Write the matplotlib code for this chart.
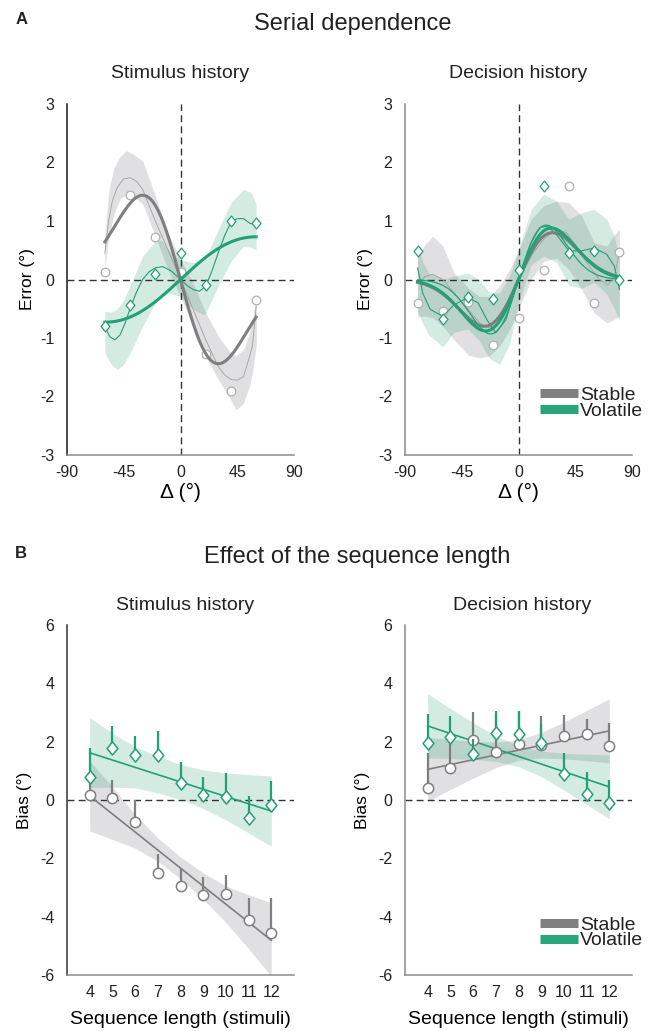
import numpy as np
import matplotlib
matplotlib.use("Agg")
import matplotlib.pyplot as plt
from matplotlib.lines import Line2D
from matplotlib.path import Path

plt.rcParams['font.family'] = ['Liberation Sans', 'DejaVu Sans']
plt.rcParams['text.color'] = '#222222'
plt.rcParams['axes.unicode_minus'] = False

GRAY = '#7f7f7f'
GRAY_LIGHT = '#b0b0b0'
GREEN = '#22a077'
BAND_GRAY = '#9a9aa2'
BAND_GREEN = '#2a9d6e'
DIAMOND = Path([(0, 1), (0.82, 0), (0, -1), (-0.82, 0), (0, 1)],
               [Path.MOVETO, Path.LINETO, Path.LINETO, Path.LINETO, Path.CLOSEPOLY])

# ---------------- panel A : serial dependence ----------------
stim_dx = [-60, -40, -20, 0, 20, 40, 60]
stim_err_stable = [0.13, 1.45, 0.73, 0.12, -1.27, -1.91, -0.35]
stim_err_volatile = [-0.80, -0.44, 0.09, 0.46, -0.10, 1.00, 0.96]

dec_dx = [-80, -60, -40, -20, 0, 20, 40, 60, 80]
dec_err_stable = [-0.40, -0.54, -0.38, -1.12, -0.66, 0.17, 1.59, -0.40, 0.47]
dec_err_volatile = [0.49, -0.67, -0.30, -0.34, 0.17, 1.59, 0.46, 0.48, 0.00]

# DoG fits: (peak amplitude, peak location in deg)
stim_dog_stable = (-1.44, 30)
stim_dog_volatile = (0.73, 60)
dec_dog_stable = (0.80, 27)
dec_dog_volatile = (0.88, 26)
dec_dog_volatile_2 = (0.93, 22)

# flexible fits (thin lines)
stim_thin_stable_x = [-60, -57, -54, -50, -45, -40, -35, -30, -20, -10, 0, 10, 20, 30, 35, 40, 45, 50, 55, 57, 60]
stim_thin_stable_y = [0.45, 1.0, 1.35, 1.58, 1.72, 1.74, 1.68, 1.54, 1.0, 0.51, 0.0, -0.51, -1.03, -1.49, -1.63, -1.71, -1.72, -1.66, -1.3, -1.14, -0.46]
stim_thin_vol_x = [-60, -56, -52, -48, -44, -40, -35, -30, -25, -20, -14, -7, 0, 5, 10, 15, 20, 25, 30, 35, 40, 45, 50, 55, 60]
stim_thin_vol_y = [-0.8, -0.98, -1.03, -0.95, -0.75, -0.5, -0.22, 0.0, 0.13, 0.2, 0.22, 0.14, 0.0, -0.1, -0.17, -0.2, -0.12, 0.15, 0.46, 0.75, 0.98, 1.04, 1.04, 0.96, 0.94]

stim_band_stable_x = [-60, -57, -53, -48, -43, -38, -30, -20, -10, 0, 10, 20, 30, 40, 44, 50, 55, 57, 60]
stim_band_stable_hi = [0.75, 1.5, 1.9, 2.1, 2.2, 2.15, 2.03, 1.43, 0.8, 0.34, -0.06, -0.57, -0.97, -1.26, -1.3, -1.2, -0.9, -0.69, -0.29]
stim_band_stable_lo = [0.2, 0.7, 1.1, 1.38, 1.44, 1.44, 1.29, 0.74, 0.17, -0.29, -0.8, -1.31, -1.71, -2.06, -2.23, -2.11, -1.8, -1.6, -1.14]
stim_band_vol_x = [-60, -55, -50, -45, -40, -30, -20, -15, -10, 0, 10, 18, 20, 30, 40, 50, 56, 60]
stim_band_vol_hi = [-0.54, -0.56, -0.5, -0.35, -0.11, 0.4, 0.66, 0.67, 0.51, 0.34, 0.29, 0.33, 0.37, 0.86, 1.31, 1.54, 1.49, 1.29]
stim_band_vol_lo = [-1.26, -1.45, -1.54, -1.45, -1.26, -0.8, -0.4, -0.3, -0.23, -0.29, -0.51, -0.6, -0.57, -0.11, 0.31, 0.57, 0.55, 0.51]

dec_thin_stable_x = [-80, -74, -68, -60, -51, -40, -31, -23, -15, -7, 0, 11, 20, 30, 38, 46, 54, 64, 71, 76, 80]
dec_thin_stable_y = [-0.05, 0.05, 0.09, 0.0, -0.23, -0.51, -0.74, -0.83, -0.66, -0.34, 0.0, 0.43, 0.69, 0.86, 0.8, 0.57, 0.29, 0.0, -0.09, 0.06, 0.46]
dec_thin_vol_x = [-80, -76, -70, -60, -51, -40, -32, -25, -18, -10, 0, 10, 17, 23, 30, 40, 50, 60, 70, 76, 80]
dec_thin_vol_y = [0.2, -0.23, -0.51, -0.63, -0.43, -0.31, -0.4, -0.69, -0.91, -0.69, 0.0, 0.63, 0.89, 0.91, 0.77, 0.49, 0.49, 0.54, 0.43, 0.23, -0.17]

dec_band_stable_x = [-80, -74, -68, -60, -51, -40, -31, -23, -15, -7, 0, 10, 20, 30, 40, 50, 60, 70, 75, 80]
dec_band_stable_hi = [0.4, 0.6, 0.74, 0.57, 0.11, -0.14, -0.29, -0.29, -0.11, 0.17, 0.49, 1.03, 1.26, 1.34, 1.31, 1.09, 0.63, 0.57, 0.74, 0.86]
dec_band_stable_lo = [-0.63, -0.63, -0.65, -0.8, -1.03, -1.29, -1.34, -1.31, -1.14, -0.86, -0.51, 0.0, 0.31, 0.37, 0.17, -0.17, -0.57, -0.74, -0.69, -0.63]
dec_band_vol_x = [-80, -76, -71, -60, -51, -40, -31, -23, -15, -7, 0, 10, 20, 30, 40, 50, 60, 70, 76, 80]
dec_band_vol_hi = [0.65, 0.3, 0.11, 0.0, 0.06, 0.11, 0.0, -0.23, -0.23, 0.06, 0.51, 1.2, 1.46, 1.34, 1.03, 1.14, 1.2, 1.03, 0.74, 0.34]
dec_band_vol_lo = [-0.55, -0.75, -0.95, -1.15, -0.9, -0.85, -1.05, -1.35, -1.45, -1.1, -0.4, 0.25, 0.4, 0.3, -0.1, -0.15, -0.05, -0.25, -0.5, -0.7]

# ---------------- panel B : sequence length ----------------
seq_len = [4, 5, 6, 7, 8, 9, 10, 11, 12]
seq_ends = [4, 12]

stim_bias_stable = [0.17, 0.06, -0.77, -2.49, -2.95, -3.27, -3.23, -4.10, -4.56]
stim_sem_stable = [0.65, 0.61, 0.77, 0.65, 0.63, 0.64, 0.66, 0.75, 1.21]
stim_bias_volatile = [0.79, 1.78, 1.54, 1.54, 0.58, 0.17, 0.10, -0.62, -0.17]
stim_sem_volatile = [1.00, 0.75, 0.64, 0.83, 0.73, 0.62, 0.81, 0.75, 0.81]
stim_fit_stable = [0.14, -4.81]
stim_fit_volatile = [1.62, -0.38]
stim_ci_stable_hi = [1.34, 0.45, -0.5, -1.3, -1.95, -2.5, -2.95, -3.25, -3.52]
stim_ci_stable_lo = [-1.06, -1.35, -1.65, -2.1, -2.7, -3.4, -4.2, -5.1, -6.05]
stim_ci_volatile_hi = [2.82, 2.3, 1.82, 1.5, 1.22, 1.03, 0.92, 0.87, 0.82]
stim_ci_volatile_lo = [0.42, 0.44, 0.42, 0.24, 0.02, -0.29, -0.68, -1.13, -1.58]

dec_bias_stable = [0.42, 1.11, 2.05, 1.66, 1.93, 1.89, 2.19, 2.27, 1.86]
dec_sem_stable = [1.20, 1.08, 0.97, 1.30, 1.12, 1.00, 0.71, 0.50, 0.77]
dec_bias_volatile = [1.97, 2.16, 1.59, 2.31, 2.27, 1.97, 0.90, 0.22, -0.09]
dec_sem_volatile = [0.97, 0.72, 0.50, 0.74, 0.78, 0.62, 0.70, 0.75, 0.78]
dec_fit_stable = [1.05, 2.37]
dec_fit_volatile = [2.54, 0.45]
dec_ci_stable_hi = [2.15, 2.08, 2.01, 1.99, 2.06, 2.32, 2.67, 3.07, 3.47]
dec_ci_stable_lo = [-0.05, 0.36, 0.75, 1.11, 1.36, 1.44, 1.41, 1.35, 1.27]
dec_ci_volatile_hi = [3.64, 3.14, 2.65, 2.2, 1.85, 1.68, 1.6, 1.57, 1.55]
dec_ci_volatile_lo = [1.44, 1.42, 1.39, 1.32, 1.15, 0.8, 0.34, -0.15, -0.65]


def dog(x, amp, peak):
    x = np.asarray(x, dtype=float)
    return amp * (x / peak) * np.exp(0.5 - x ** 2 / (2 * peak ** 2))


def style_axes(ax, left_color):
    for s in ['top', 'right']:
        ax.spines[s].set_visible(False)
    ax.spines['left'].set_color(left_color)
    ax.spines['bottom'].set_color('#8a8a8a')
    ax.spines['left'].set_linewidth(1.1)
    ax.spines['bottom'].set_linewidth(1.1)
    ax.tick_params(length=0, labelsize=11.5, colors='#222222')
    ax.tick_params(axis='y', pad=9)
    ax.tick_params(axis='x', pad=7)


fig = plt.figure(figsize=(6.48, 10.31), dpi=100)
W, H = 648.0, 1031.0


def px_axes(x0, x1, y0, y1):
    return fig.add_axes([x0 / W, 1 - y1 / H, (x1 - x0) / W, (y1 - y0) / H])


axA1 = px_axes(67, 294, 104, 455)
axA2 = px_axes(405, 632, 104, 455)
axB1 = px_axes(67, 294, 625, 975)
axB2 = px_axes(405, 632, 625, 975)


def draw_serial(ax, dx, st, vo, dog_st, dog_vo, thin_st, thin_vo, band_st, band_vo, extra_dog=None):
    ax.fill_between(band_st[0], band_st[2], band_st[1], color=BAND_GRAY, alpha=0.3, lw=0, zorder=1)
    ax.fill_between(band_vo[0], band_vo[2], band_vo[1], color=BAND_GREEN, alpha=0.2, lw=0, zorder=1)
    ax.axhline(0, color='#333333', lw=1, ls=(0, (5, 3)), zorder=1.5)
    ax.axvline(0, color='#333333', lw=1, ls=(0, (5, 3)), zorder=1.5)
    ax.plot(thin_st[0], thin_st[1], color='#a0a0a0', lw=0.6, zorder=2)
    ax.plot(dx, st, ls='none', marker='o', ms=6.2, mfc='white', mec=GRAY_LIGHT, mew=0.9, zorder=2.2)
    ax.plot(thin_vo[0], thin_vo[1], color=GREEN, lw=0.8, zorder=2.4)
    xs = np.linspace(min(dx), max(dx), 300)
    ax.plot(xs, dog(xs, *dog_st), color=GRAY, lw=2.2, zorder=3)
    if extra_dog is not None:
        ax.plot(xs, dog(xs, *extra_dog), color=GREEN, lw=0.9, zorder=3)
    ax.plot(xs, dog(xs, *dog_vo), color=GREEN, lw=2.2, zorder=3)
    ax.plot(dx, vo, ls='none', marker=DIAMOND, ms=7.8, mfc='white', mec=GREEN, mew=0.9, zorder=4)
    ax.set_xlim(-90, 90)
    ax.set_ylim(-3, 3)
    ax.set_xticks([-90, -45, 0, 45, 90])
    ax.set_yticks([-3, -2, -1, 0, 1, 2, 3])
    ax.set_xlabel('Δ (°)', fontsize=15, labelpad=2)
    ax.set_ylabel('Error (°)', fontsize=12.5, labelpad=4)


draw_serial(axA1, stim_dx, stim_err_stable, stim_err_volatile,
            stim_dog_stable, stim_dog_volatile,
            (stim_thin_stable_x, stim_thin_stable_y), (stim_thin_vol_x, stim_thin_vol_y),
            (stim_band_stable_x, stim_band_stable_hi, stim_band_stable_lo),
            (stim_band_vol_x, stim_band_vol_hi, stim_band_vol_lo))
draw_serial(axA2, dec_dx, dec_err_stable, dec_err_volatile,
            dec_dog_stable, dec_dog_volatile,
            (dec_thin_stable_x, dec_thin_stable_y), (dec_thin_vol_x, dec_thin_vol_y),
            (dec_band_stable_x, dec_band_stable_hi, dec_band_stable_lo),
            (dec_band_vol_x, dec_band_vol_hi, dec_band_vol_lo),
            extra_dog=dec_dog_volatile_2)
style_axes(axA1, '#1a1a1a')
style_axes(axA2, '#8a8a8a')


def draw_length(ax, st, st_sem, vo, vo_sem, fit_st, fit_vo, ci_st, ci_vo):
    ax.fill_between(seq_len, ci_st[1], ci_st[0], color=BAND_GRAY, alpha=0.3, lw=0, zorder=1)
    ax.fill_between(seq_len, ci_vo[1], ci_vo[0], color=BAND_GREEN, alpha=0.2, lw=0, zorder=1)
    ax.axhline(0, color='#333333', lw=1, ls=(0, (5, 3)), zorder=1.5)
    ax.plot(seq_ends, fit_st, color=GRAY, lw=1.2, zorder=2)
    ax.plot(seq_ends, fit_vo, color=GREEN, lw=1.2, zorder=2)
    st = np.array(st)
    vo = np.array(vo)
    ax.vlines(seq_len, st, st + np.array(st_sem), color=GRAY, lw=1.6, zorder=3)
    ax.plot(seq_len, st, ls='none', marker='o', ms=7.4, mfc='white', mec=GRAY, mew=1.1, zorder=3.5)
    ax.vlines(seq_len, vo, vo + np.array(vo_sem), color=GREEN, lw=1.6, zorder=4)
    ax.plot(seq_len, vo, ls='none', marker=DIAMOND, ms=9.5, mfc='white', mec=GREEN, mew=1.1, zorder=4.5)
    ax.set_xlim(3, 13)
    ax.set_ylim(-6, 6)
    ax.set_xticks(seq_len)
    ax.set_yticks([-6, -4, -2, 0, 2, 4, 6])
    ax.set_xlabel('Sequence length (stimuli)', fontsize=14, labelpad=8)
    ax.set_ylabel('Bias (°)', fontsize=12.5, labelpad=6)


draw_length(axB1, stim_bias_stable, stim_sem_stable, stim_bias_volatile, stim_sem_volatile,
            stim_fit_stable, stim_fit_volatile,
            (stim_ci_stable_hi, stim_ci_stable_lo), (stim_ci_volatile_hi, stim_ci_volatile_lo))
draw_length(axB2, dec_bias_stable, dec_sem_stable, dec_bias_volatile, dec_sem_volatile,
            dec_fit_stable, dec_fit_volatile,
            (dec_ci_stable_hi, dec_ci_stable_lo), (dec_ci_volatile_hi, dec_ci_volatile_lo))
style_axes(axB1, '#333333')
style_axes(axB2, '#8a8a8a')

# legends
handles = [Line2D([0], [0], color='#808080', lw=6.5, solid_capstyle='butt'),
           Line2D([0], [0], color='#27a67c', lw=6.5, solid_capstyle='butt')]
for ax, ytop in [(axA2, 0.195), (axB2, 0.168)]:
    ax.legend(handles, ['Stable', 'Volatile'], loc='upper left', bbox_to_anchor=(0.595, ytop),
              frameon=False, fontsize=14, handlelength=1.95, handletextpad=0.1,
              labelspacing=-0.1, borderpad=0, borderaxespad=0)

# titles
fig.text(22 / W, 1 - 19 / H, 'A', fontsize=12, fontweight='bold', ha='center', va='center')
fig.text(21 / W, 1 - 553 / H, 'B', fontsize=12, fontweight='bold', ha='center', va='center')
fig.text(353 / W, 1 - 24 / H, 'Serial dependence', fontsize=17, ha='center', va='center')
fig.text(357 / W, 1 - 557 / H, 'Effect of the sequence length', fontsize=17, ha='center', va='center')
for x, y, t in [(180, 73, 'Stimulus history'), (518, 73, 'Decision history'),
                (185, 605, 'Stimulus history'), (522, 605, 'Decision history')]:
    fig.text(x / W, 1 - y / H, t, fontsize=14, ha='center', va='center')

fig.savefig('out.png', dpi=100)
